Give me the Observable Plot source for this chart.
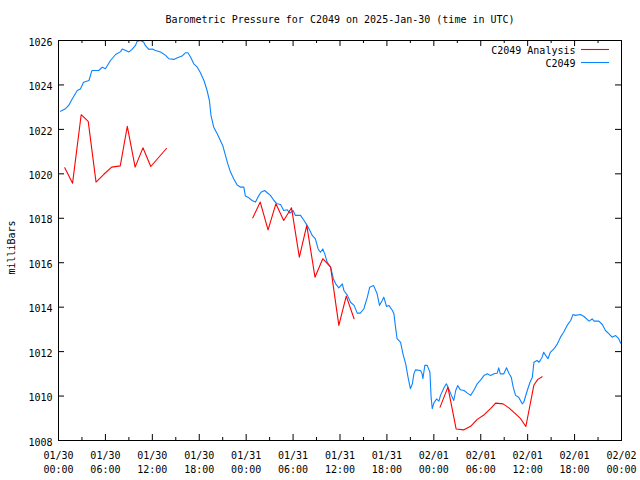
<!DOCTYPE html>
<html>
<head>
<meta charset="utf-8">
<script src="https://cdn.jsdelivr.net/npm/d3@7"></script>
<script src="https://cdn.jsdelivr.net/npm/@observablehq/plot@0.6"></script>
<style>
  html, body { margin: 0; padding: 0; background: #fff; }
  #chart svg { display: block; }
</style>
</head>
<body>
<div id="chart"></div>
<script>
// ---- Data (hours since 2025-01-30 00:00 UTC, pressure in mbar) ----
const titleText = "Barometric Pressure for C2049 on 2025-Jan-30 (time in UTC)";
const yLabel = "milliBars";
const seriesNames = ["C2049 Analysis", "C2049"];
const seriesColors = ["#ff0000", "#0a84ff"];

const obsHours = [0.26,0.9,1.3,1.75,2.4,2.8,3.2,3.9,4.2,4.3,5.15,5.6,6.0,6.65,7.3,7.95,8.15,8.6,9.0,9.4,9.85,10.06,10.5,10.9,11.1,11.55,12.0,12.4,13.05,13.7,14.1,14.75,15.2,15.8,16.25,16.55,16.9,17.3,17.75,18.15,18.6,19.0,19.3,19.5,19.85,20.3,20.7,21.0,21.35,21.65,22.0,22.4,22.85,23.3,23.7,23.9,24.35,24.75,25.2,25.5,25.9,26.35,26.7,27.1,27.55,27.95,28.4,28.8,29.25,29.6,30.0,30.3,30.95,31.4,31.8,32.15,32.45,32.85,33.2,33.5,33.8,34.05,34.35,34.8,35.15,35.45,35.85,36.3,36.5,36.95,37.35,37.8,38.2,38.6,39.05,39.5,39.8,40.3,40.75,41.05,41.4,41.6,41.95,42.25,42.7,42.9,43.1,43.3,43.75,44.05,44.4,44.7,45.0,45.25,45.45,45.65,46.3,46.5,46.6,46.85,47.15,47.5,47.65,47.8,48.0,48.35,48.65,48.85,49.3,49.6,49.9,50.25,50.55,50.8,51.05,51.4,51.85,52.3,52.7,53.1,53.55,54.0,54.4,54.85,55.25,55.7,56.1,56.3,56.5,56.95,57.3,57.6,57.9,58.15,58.45,58.85,59.3,59.5,59.95,60.3,60.6,60.8,61.2,61.45,61.65,61.85,62.05,62.3,62.6,62.9,63.35,63.8,64.2,64.6,65.05,65.5,65.8,66.1,66.75,67.2,67.85,68.25,68.5,69.1,69.55,69.95,70.4,70.8,71.25,71.65,71.9];
const obsPressure = [1022.82,1022.93,1023.08,1023.37,1023.75,1023.82,1024.12,1024.2,1024.57,1024.65,1024.65,1024.8,1024.73,1025.1,1025.37,1025.5,1025.62,1025.55,1025.48,1025.6,1025.78,1025.97,1026.0,1025.92,1025.78,1025.6,1025.62,1025.55,1025.48,1025.33,1025.18,1025.15,1025.22,1025.3,1025.45,1025.45,1025.25,1024.95,1024.8,1024.55,1024.2,1023.75,1023.3,1022.63,1022.1,1021.8,1021.5,1021.28,1020.83,1020.45,1020.08,1019.78,1019.5,1019.4,1019.4,1019.0,1018.92,1018.8,1018.73,1018.95,1019.17,1019.25,1019.15,1019.03,1018.8,1018.65,1018.62,1018.35,1018.38,1018.23,1018.35,1018.13,1018.13,1017.9,1017.68,1017.45,1017.23,1017.07,1016.62,1016.47,1016.62,1016.4,1016.03,1015.8,1015.28,1015.05,1014.87,1015.05,1014.75,1014.53,1014.22,1014.08,1013.73,1013.73,1013.93,1014.45,1014.9,1014.97,1014.6,1014.08,1014.3,1014.45,1014.03,1014.08,1013.85,1013.7,1013.1,1012.58,1012.42,1011.9,1011.45,1010.85,1010.33,1010.55,1011.0,1011.18,1011.15,1011.0,1010.78,1011.38,1011.38,1011.07,1009.95,1009.43,1009.68,1009.87,1009.77,1010.03,1010.37,1010.55,1010.33,1010.03,1009.8,1010.25,1010.47,1010.28,1010.25,1010.13,1010.03,1010.25,1010.55,1010.73,1010.92,1011.0,1010.92,1011.0,1011.03,1011.27,1011.0,1011.0,1011.27,1011.03,1010.85,1010.4,1010.03,1009.95,1009.65,1009.72,1010.25,1010.62,1010.85,1011.52,1011.6,1011.52,1011.63,1011.75,1011.97,1011.83,1011.68,1011.97,1012.12,1012.35,1012.65,1012.87,1013.18,1013.4,1013.67,1013.63,1013.67,1013.58,1013.37,1013.47,1013.37,1013.37,1013.22,1012.95,1012.8,1012.65,1012.72,1012.58,1012.38];

// Analysis series; null marks a gap in the record
const anaHours = [0.8,1.8,2.9,3.8,4.8,5.8,6.8,7.9,8.8,9.8,10.8,11.8,13.8, 19, 24.85,25.8,26.8,27.8,28.8,29.8,30.8,31.75,32.8,33.8,34.8,35.85,36.8,37.8, 43, 48.8,49.8,50.85,51.85,52.7,53.55,54.4,55.25,55.9,56.85,57.6,58.45,59.1,59.77,60.8,61.3,61.85];
const anaPressure = [1020.27,1019.58,1022.66,1022.36,1019.63,1019.98,1020.3,1020.36,1022.14,1020.3,1021.17,1020.33,1021.14, null, 1018.02,1018.73,1017.48,1018.65,1017.9,1018.47,1016.25,1017.68,1015.35,1016.18,1015.8,1013.18,1014.5,1013.48, null, 1009.5,1010.4,1008.52,1008.48,1008.64,1008.95,1009.15,1009.43,1009.68,1009.65,1009.47,1009.2,1008.98,1008.63,1010.5,1010.75,1010.87];

const xMajorTicks = [0,6,12,18,24,30,36,42,48,54,60,66,72];
const xMinorTicks = [3,9,15,21,27,33,39,45,51,57,63,69];
const xTickDates = ["01/30","01/30","01/30","01/30","01/31","01/31","01/31","01/31","02/01","02/01","02/01","02/01","02/02"];
const xTickTimes = ["00:00","06:00","12:00","18:00","00:00","06:00","12:00","18:00","00:00","06:00","12:00","18:00","00:00"];
const yTicks = [1008,1010,1012,1014,1016,1018,1020,1022,1024,1026];

// ---- Build tables ----
const obs = obsHours.map((h, i) => ({h, p: obsPressure[i]}));
const ana = anaHours.map((h, i) => ({h, p: anaPressure[i]}));

const W = 640, H = 480, mL = 58, mR = 19, mT = 40, mB = 40;
const pw = W - mL - mR, ph = H - mT - mB;
const font = "'DejaVu Sans Mono', 'Liberation Mono', monospace";

const chart = Plot.plot({
  width: W, height: H,
  marginLeft: mL, marginRight: mR, marginTop: mT, marginBottom: mB,
  x: {domain: [0, 72], axis: null},
  y: {domain: [1008, 1026], axis: null},
  style: {fontFamily: font, fontSize: "10px", background: "#fff", color: "#000"},
  marks: [
    // ticks (inward, mirrored)
    Plot.tickX(xMajorTicks, {x: d => d, stroke: "#000", insetTop: ph - 6}),
    Plot.tickX(xMajorTicks, {x: d => d, stroke: "#000", insetBottom: ph - 6}),
    Plot.tickX(xMinorTicks, {x: d => d, stroke: "#000", insetTop: ph - 3}),
    Plot.tickX(xMinorTicks, {x: d => d, stroke: "#000", insetBottom: ph - 3}),
    Plot.tickY(yTicks, {y: d => d, stroke: "#000", insetRight: pw - 6}),
    Plot.tickY(yTicks, {y: d => d, stroke: "#000", insetLeft: pw - 6}),
    // tick labels
    Plot.text(yTicks, {y: d => d, text: d => String(d), frameAnchor: "left", dx: -6, dy: 2, textAnchor: "end", lineAnchor: "middle", fill: "#000"}),
    Plot.text(xMajorTicks, {x: d => d, text: (d, i) => xTickDates[i], frameAnchor: "bottom", dy: 15, textAnchor: "middle", lineAnchor: "middle", fill: "#000"}),
    Plot.text(xMajorTicks, {x: d => d, text: (d, i) => xTickTimes[i], frameAnchor: "bottom", dy: 29, textAnchor: "middle", lineAnchor: "middle", fill: "#000"}),
    // labels
    Plot.text([titleText], {frameAnchor: "top", dy: -21, textAnchor: "middle", lineAnchor: "middle", fill: "#000"}),
    Plot.text([yLabel], {frameAnchor: "left", rotate: -90, dx: -47, dy: 7, textAnchor: "middle", lineAnchor: "middle", fill: "#000"}),
    // series
    Plot.line(obs, {x: "h", y: "p", stroke: seriesColors[1], strokeWidth: 1.1}),
    Plot.line(ana, {x: "h", y: "p", stroke: seriesColors[0], strokeWidth: 1.1}),
    // legend text
    Plot.text([seriesNames[0]], {frameAnchor: "top-right", dx: -46, dy: 10, textAnchor: "end", lineAnchor: "middle", fill: "#000"}),
    Plot.text([seriesNames[1]], {frameAnchor: "top-right", dx: -46, dy: 23, textAnchor: "end", lineAnchor: "middle", fill: "#000"}),
    Plot.frame({stroke: "#000"})
  ]
});

// legend line samples
const svg = d3.select(chart);
[0, 1].forEach(i => {
  svg.append("line")
    .attr("x1", 581).attr("x2", 609)
    .attr("y1", 49.5 + i * 13).attr("y2", 49.5 + i * 13)
    .attr("stroke", seriesColors[i]).attr("stroke-width", 1.1);
});

document.getElementById("chart").appendChild(chart);
</script>
</body>
</html>
